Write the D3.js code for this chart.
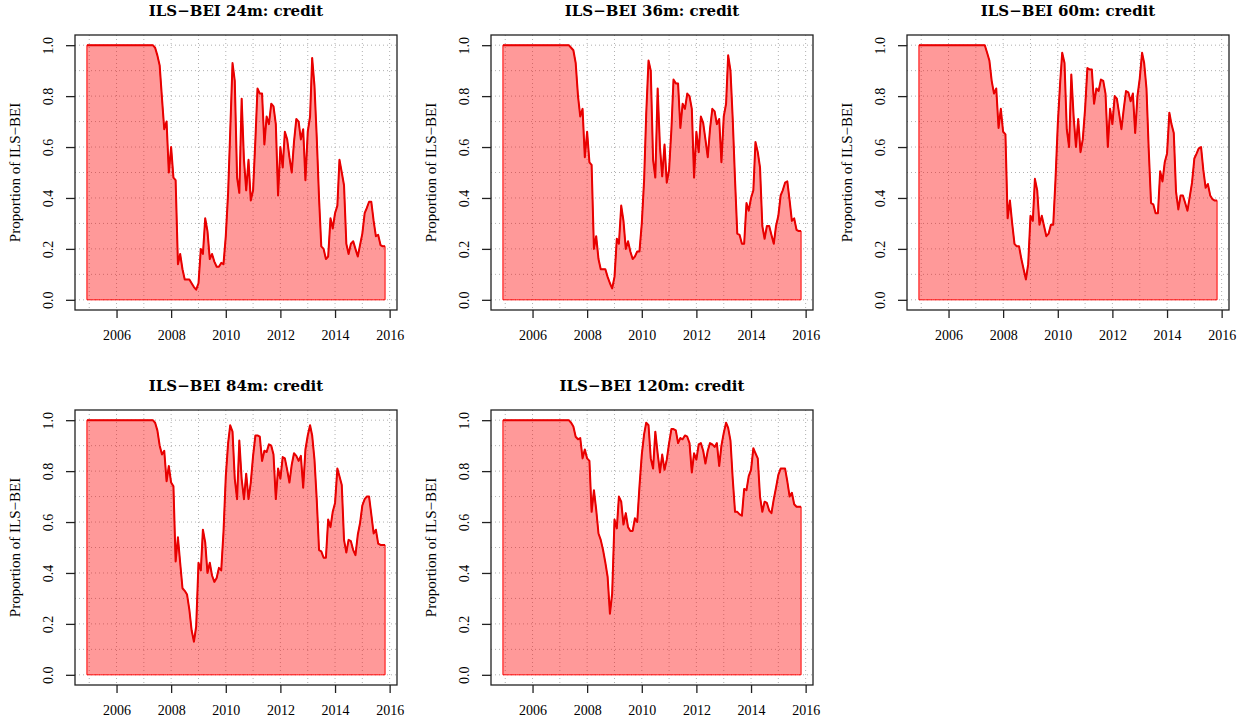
<!DOCTYPE html>
<html>
<head>
<meta charset="utf-8">
<script src="https://cdn.jsdelivr.net/npm/d3@7"></script>
<style>
  body { margin: 0; background: #fff; }
  svg text { fill: #000; }
</style>
</head>
<body>
<svg id="chart" width="1246" height="723"></svg>
<script>
// monthly observations, Dec 2004 .. Nov 2015
const months = d3.timeMonth.range(new Date(2004, 11, 1), new Date(2015, 11, 1));

const flat = new Array(30).fill(1.0);

const s24 = flat.concat([
  0.99, 0.96, 0.92, 0.79, 0.67, 0.70, 0.50, 0.60, 0.48, 0.47,
  0.14, 0.18, 0.12, 0.08, 0.08, 0.08, 0.065, 0.05, 0.04, 0.065,
  0.20, 0.18, 0.32, 0.27, 0.16, 0.18, 0.15, 0.13, 0.13, 0.145,
  0.14, 0.25, 0.42, 0.66, 0.93, 0.86, 0.48, 0.42, 0.79, 0.55,
  0.43, 0.55, 0.39, 0.43, 0.63, 0.83, 0.81, 0.81, 0.61, 0.72,
  0.69, 0.77, 0.76, 0.69, 0.41, 0.60, 0.52, 0.66, 0.63, 0.56,
  0.50, 0.62, 0.71, 0.70, 0.63, 0.67, 0.47, 0.66, 0.72, 0.95,
  0.84, 0.64, 0.40, 0.21, 0.20, 0.16, 0.17, 0.32, 0.28, 0.34,
  0.37, 0.55, 0.50, 0.45, 0.22, 0.18, 0.22, 0.23, 0.20, 0.17,
  0.215, 0.26, 0.34, 0.36, 0.385, 0.385, 0.31, 0.25, 0.255, 0.215,
  0.21, 0.21
]);

const s36 = flat.concat([
  0.99, 0.98, 0.93, 0.80, 0.72, 0.75, 0.56, 0.66, 0.54, 0.53,
  0.20, 0.25, 0.16, 0.12, 0.12, 0.12, 0.09, 0.065, 0.045, 0.09,
  0.24, 0.22, 0.37, 0.31, 0.20, 0.23, 0.19, 0.16, 0.17, 0.19,
  0.19, 0.30, 0.47, 0.73, 0.94, 0.90, 0.55, 0.48, 0.83, 0.60,
  0.485, 0.61, 0.46, 0.51, 0.67, 0.865, 0.85, 0.85, 0.675, 0.77,
  0.75, 0.81, 0.80, 0.75, 0.48, 0.66, 0.58, 0.72, 0.695, 0.63,
  0.56, 0.67, 0.75, 0.74, 0.69, 0.71, 0.54, 0.72, 0.77, 0.96,
  0.90, 0.71, 0.47, 0.26, 0.255, 0.22, 0.22, 0.38, 0.35, 0.40,
  0.43, 0.62, 0.58, 0.52, 0.29, 0.24, 0.29, 0.29, 0.255, 0.22,
  0.29, 0.33, 0.41, 0.43, 0.46, 0.465, 0.39, 0.31, 0.32, 0.275,
  0.27, 0.27
]);

const s60 = flat.concat([
  0.97, 0.94, 0.86, 0.81, 0.83, 0.675, 0.75, 0.66, 0.65, 0.32,
  0.39, 0.30, 0.22, 0.21, 0.21, 0.16, 0.12, 0.08, 0.14, 0.33,
  0.31, 0.475, 0.43, 0.295, 0.33, 0.29, 0.25, 0.26, 0.295, 0.295,
  0.47, 0.69, 0.85, 0.97, 0.93, 0.67, 0.60, 0.885, 0.72, 0.60,
  0.71, 0.58, 0.63, 0.75, 0.91, 0.905, 0.905, 0.77, 0.83, 0.82,
  0.865, 0.86, 0.81, 0.60, 0.75, 0.69, 0.80, 0.79, 0.73, 0.67,
  0.75, 0.82, 0.815, 0.78, 0.81, 0.655, 0.80, 0.87, 0.97, 0.93,
  0.83, 0.59, 0.38, 0.375, 0.34, 0.34, 0.505, 0.465, 0.54, 0.575,
  0.735, 0.69, 0.655, 0.425, 0.355, 0.41, 0.41, 0.38, 0.35, 0.405,
  0.46, 0.555, 0.575, 0.595, 0.60, 0.51, 0.44, 0.455, 0.41, 0.395,
  0.39, 0.39
]);

const s84 = flat.concat([
  0.99, 0.96, 0.90, 0.865, 0.88, 0.76, 0.82, 0.755, 0.74, 0.445,
  0.54, 0.44, 0.34, 0.33, 0.315, 0.255, 0.175, 0.13, 0.19, 0.44,
  0.41, 0.57, 0.52, 0.40, 0.44, 0.39, 0.365, 0.38, 0.42, 0.41,
  0.56, 0.78, 0.91, 0.98, 0.955, 0.77, 0.69, 0.92, 0.77, 0.69,
  0.79, 0.69, 0.755, 0.86, 0.94, 0.94, 0.935, 0.84, 0.88, 0.875,
  0.905, 0.90, 0.865, 0.69, 0.81, 0.77, 0.855, 0.85, 0.805, 0.755,
  0.825, 0.87, 0.86, 0.84, 0.86, 0.735, 0.885, 0.94, 0.98, 0.94,
  0.845, 0.69, 0.49, 0.485, 0.46, 0.46, 0.61, 0.58, 0.64, 0.675,
  0.81, 0.78, 0.745, 0.53, 0.48, 0.53, 0.525, 0.49, 0.47, 0.55,
  0.595, 0.665, 0.69, 0.70, 0.70, 0.63, 0.555, 0.57, 0.515, 0.51,
  0.51, 0.51
]);

const s120 = flat.concat([
  0.99, 0.975, 0.935, 0.925, 0.93, 0.85, 0.885, 0.85, 0.84, 0.64,
  0.725, 0.65, 0.555, 0.53, 0.49, 0.44, 0.385, 0.24, 0.32, 0.61,
  0.575, 0.70, 0.68, 0.59, 0.635, 0.58, 0.565, 0.565, 0.615, 0.60,
  0.74, 0.865, 0.945, 0.99, 0.98, 0.85, 0.81, 0.955, 0.87, 0.795,
  0.865, 0.805, 0.845, 0.91, 0.965, 0.965, 0.96, 0.91, 0.93, 0.925,
  0.94, 0.935, 0.91, 0.795, 0.87, 0.845, 0.905, 0.91, 0.88, 0.83,
  0.88, 0.91, 0.905, 0.895, 0.91, 0.82, 0.90, 0.95, 0.99, 0.97,
  0.92, 0.77, 0.64, 0.64, 0.63, 0.625, 0.73, 0.725, 0.78, 0.805,
  0.89, 0.87, 0.85, 0.70, 0.64, 0.68, 0.675, 0.645, 0.635, 0.69,
  0.735, 0.785, 0.81, 0.81, 0.81, 0.76, 0.70, 0.715, 0.67, 0.66,
  0.66, 0.66
]);

const titles = ["ILS\u2212BEI 24m: credit", "ILS\u2212BEI 36m: credit", "ILS\u2212BEI 60m: credit",
                "ILS\u2212BEI 84m: credit", "ILS\u2212BEI 120m: credit"];
const seriesList = [s24, s36, s60, s84, s120];
const yearTicks = [2006, 2008, 2010, 2012, 2014, 2016];
const yTicks = [0, 0.2, 0.4, 0.6, 0.8, 1.0];

const svg = d3.select("#chart");

const boxW = 322, boxH = 275;

function yearDate(y) { return new Date(y, 0, 1); }

// R style 4% padding on x range
const ext = d3.extent(months);
const pad = (ext[1] - ext[0]) * 0.04;

seriesList.forEach((vals, k) => {
  const col = k % 3, row = Math.floor(k / 3);
  const left = 75 + col * 416, top = 35 + row * 375;

  const x = d3.scaleTime()
    .domain([new Date(+ext[0] - pad), new Date(+ext[1] + pad)])
    .range([0, boxW]);
  const y = d3.scaleLinear().domain([-0.04, 1.04]).range([boxH, 0]);

  const g = svg.append("g").attr("transform", `translate(${left},${top})`);

  // dotted grid
  g.selectAll("line.gv")
    .data(d3.range(2005, 2017))
    .enter().append("line")
    .attr("class", "gv")
    .attr("x1", d => x(yearDate(d))).attr("x2", d => x(yearDate(d)))
    .attr("y1", 0).attr("y2", boxH)
    .attr("stroke", "#b0b0b0").attr("stroke-width", 1)
    .attr("stroke-dasharray", "1,3");
  g.selectAll("line.gh")
    .data(d3.range(0, 11).map(d => d / 10))
    .enter().append("line")
    .attr("class", "gh")
    .attr("x1", 0).attr("x2", boxW)
    .attr("y1", d => y(d)).attr("y2", d => y(d))
    .attr("stroke", "#b0b0b0").attr("stroke-width", 1)
    .attr("stroke-dasharray", "1,3");

  const pts = vals.map((v, i) => ({ d: months[i], v: v }));

  // shaded polygon
  const area = d3.area()
    .x(p => x(p.d))
    .y0(y(0))
    .y1(p => y(p.v));
  g.append("path")
    .datum(pts)
    .attr("d", area)
    .attr("fill", "rgba(255,0,0,0.4)")
    .attr("stroke", "#ff0000")
    .attr("stroke-width", 1);

  const line = d3.line().x(p => x(p.d)).y(p => y(p.v));
  g.append("path")
    .datum(pts)
    .attr("d", line)
    .attr("fill", "none")
    .attr("stroke", "#e80000")
    .attr("stroke-width", 2)
    .attr("stroke-linejoin", "round");

  // box
  g.append("rect")
    .attr("x", 0).attr("y", 0)
    .attr("width", boxW).attr("height", boxH)
    .attr("fill", "none")
    .attr("stroke", "#222").attr("stroke-width", 1.3);

  // x axis
  const xa = g.append("g")
    .attr("transform", `translate(0,${boxH})`)
    .call(d3.axisBottom(x).tickValues(yearTicks.map(yearDate)).tickFormat(d3.timeFormat("%Y")).tickSizeInner(8).tickSizeOuter(0).tickPadding(12));
  xa.select(".domain").remove();
  xa.selectAll("line").attr("stroke", "#222").attr("stroke-width", 1.3);
  xa.selectAll("text")
    .attr("font-family", "'Liberation Serif', serif")
    .attr("font-size", 14).attr("fill", "#000");

  // y axis, labels parallel to the axis
  const ya = g.append("g")
    .call(d3.axisLeft(y).tickValues(yTicks).tickFormat(d3.format(".1f")).tickSizeInner(9).tickSizeOuter(0));
  ya.select(".domain").remove();
  ya.selectAll("line").attr("stroke", "#222").attr("stroke-width", 1.3);
  ya.selectAll("text")
    .attr("font-family", "'Liberation Serif', serif")
    .attr("font-size", 14).attr("fill", "#000")
    .attr("x", null).attr("dy", null)
    .attr("text-anchor", "middle")
    .attr("transform", "translate(-25,0) rotate(-90)")
    .attr("dominant-baseline", "middle");

  g.append("text")
    .attr("transform", `translate(-58,${boxH / 2}) rotate(-90)`)
    .attr("text-anchor", "middle")
    .attr("dominant-baseline", "middle")
    .attr("font-family", "'Liberation Serif', serif")
    .attr("font-size", 15)
    .text("Proportion of ILS\u2212BEI");

  g.append("text")
    .attr("x", boxW / 2).attr("y", -23)
    .attr("text-anchor", "middle")
    .attr("dominant-baseline", "middle")
    .attr("font-family", "'DejaVu Serif', serif")
    .attr("font-weight", "bold")
    .attr("font-size", 15)
    .text(titles[k]);
});
</script>
</body>
</html>
